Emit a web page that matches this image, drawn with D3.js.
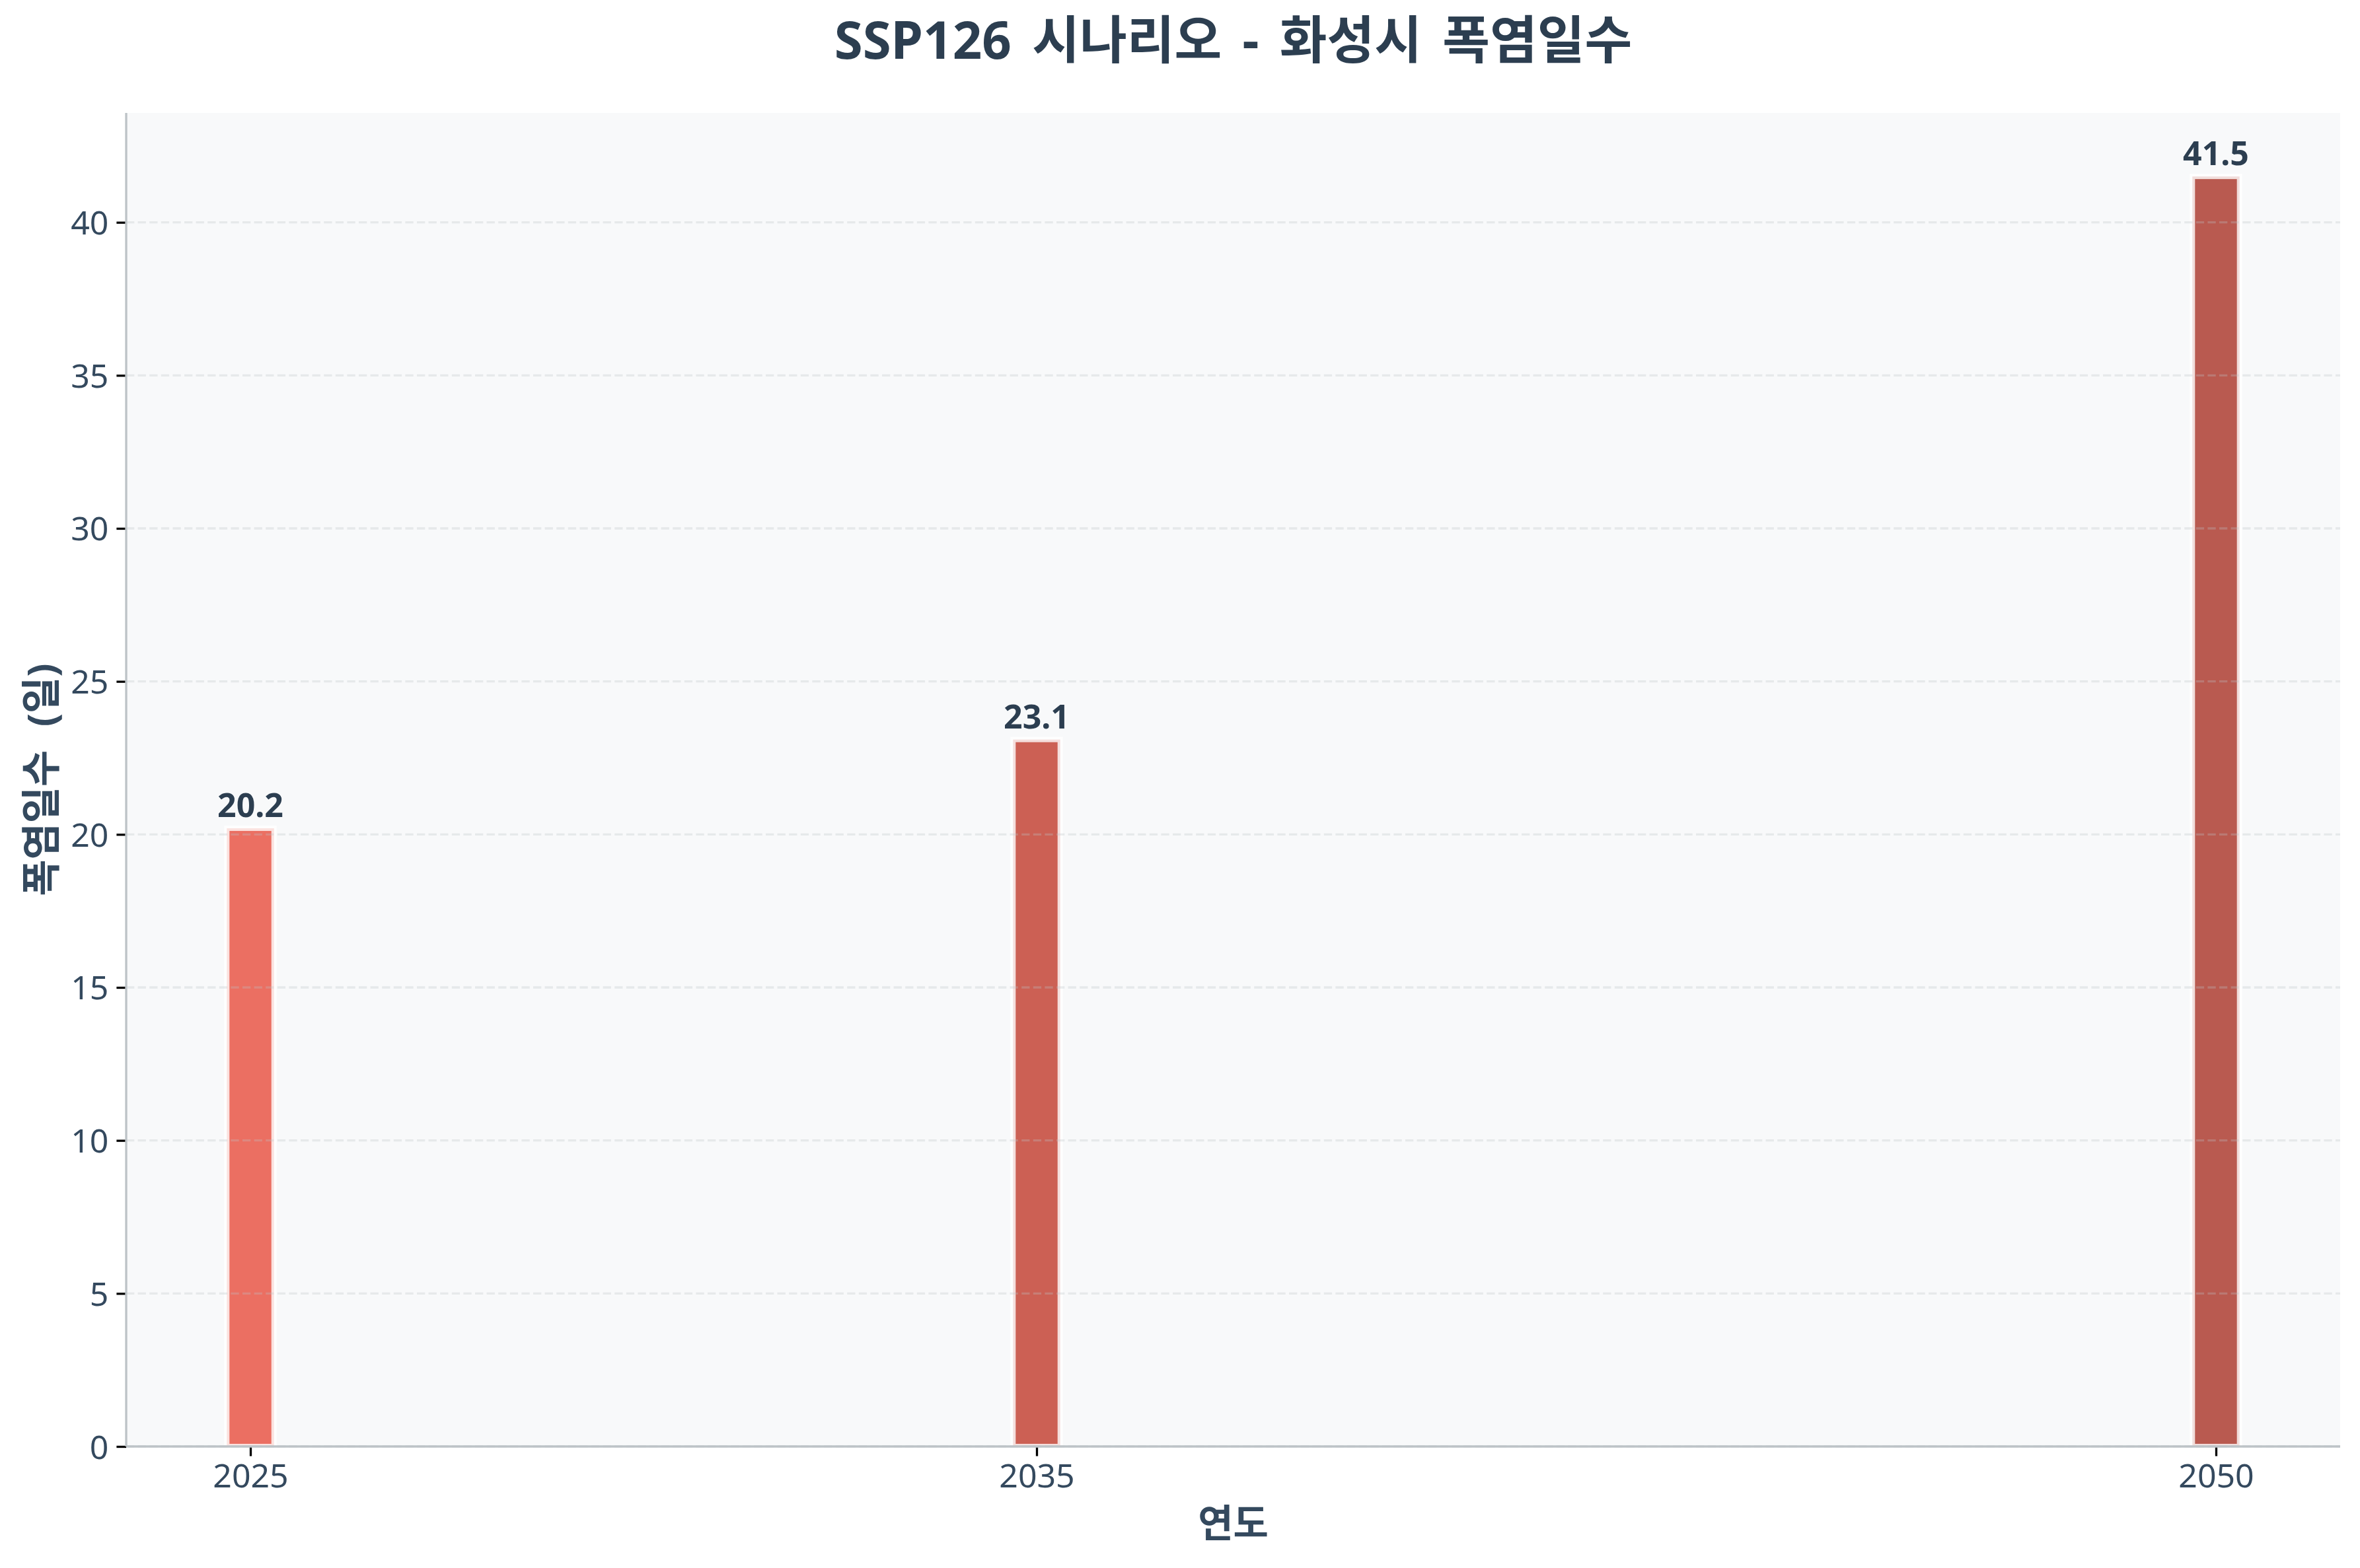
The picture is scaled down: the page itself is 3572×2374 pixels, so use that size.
<!DOCTYPE html>
<html>
<head>
<meta charset="utf-8">
<script src="https://cdn.jsdelivr.net/npm/d3@7"></script>
<style>
  body { margin: 0; background: #ffffff; }
  text { font-family: "Noto Sans", "Noto Sans CJK KR", sans-serif; }
</style>
</head>
<body>
<script>
// data
const a_years = [2025, 2035, 2050];
const a_heat_days = [20.2, 23.1, 41.5];
const a_bar_colors = ["#e74c3c", "#c0392b", "#a93226"];
const a_y_ticks = [0, 5, 10, 15, 20, 25, 30, 35, 40];

const v_title = "SSP126 시나리오 - 화성시 폭염일수";
const v_x_label = "연도";
const v_y_label = "폭염일수 (일)";

const v_width = 3572, v_height = 2374;
const d_margin = {top: 171, right: 30, bottom: 184, left: 191};
const v_graph_width = v_width - d_margin.left - d_margin.right;
const v_graph_height = v_height - d_margin.top - d_margin.bottom;

const v_bar_w = 0.6;

// matplotlib-style 5% margins around the bars
var v_x_min = d3.min(a_years) - v_bar_w / 2,
    v_x_max = d3.max(a_years) + v_bar_w / 2,
    v_x_pad = (v_x_max - v_x_min) * 0.05;

var x_bc = d3.scaleLinear()
    .domain([v_x_min - v_x_pad, v_x_max + v_x_pad])
    .range([0, v_graph_width]);
var y_bc = d3.scaleLinear()
    .domain([0, d3.max(a_heat_days) * 1.05])
    .range([v_graph_height, 0]);

var svg = d3.select("body").append("svg")
    .attr("width", v_width)
    .attr("height", v_height);

const g = svg.append("g")
    .attr("transform", `translate(${d_margin.left}, ${d_margin.top})`);

// plot background
g.append("rect")
    .attr("width", v_graph_width)
    .attr("height", v_graph_height)
    .attr("fill", "#f8f9fa");

// bars
g.selectAll(".bar")
    .data(a_heat_days)
    .enter().append("rect")
    .attr("class", "bar")
    .attr("x", (d, i) => x_bc(a_years[i] - v_bar_w / 2))
    .attr("width", (d, i) => x_bc(a_years[i] + v_bar_w / 2) - x_bc(a_years[i] - v_bar_w / 2))
    .attr("y", d => y_bc(d))
    .attr("height", d => y_bc(0) - y_bc(d))
    .attr("fill", (d, i) => a_bar_colors[i])
    .attr("fill-opacity", 0.8)
    .attr("stroke", "#ffffff")
    .attr("stroke-opacity", 0.8)
    .attr("stroke-width", 8);

// grid (drawn over bars like matplotlib)
g.append("g")
    .selectAll("line")
    .data(a_y_ticks)
    .enter().append("line")
    .attr("x1", 0)
    .attr("x2", v_graph_width)
    .attr("y1", d => y_bc(d))
    .attr("y2", d => y_bc(d))
    .attr("stroke", "#bdc3c7")
    .attr("stroke-opacity", 0.3)
    .attr("stroke-width", 3.3)
    .attr("stroke-dasharray", "12.3,5.3");

// axes
var x_axis = d3.axisBottom(x_bc)
    .tickValues(a_years)
    .tickFormat(d3.format("d"))
    .tickSize(14.6)
    .tickPadding(12);
var y_axis = d3.axisLeft(y_bc)
    .tickValues(a_y_ticks)
    .tickSize(14.6)
    .tickPadding(12);

const x_axis_group = g.append("g")
    .attr("transform", `translate(0, ${v_graph_height})`)
    .call(x_axis);
const y_axis_group = g.append("g")
    .call(y_axis);

[x_axis_group, y_axis_group].forEach(function(ax) {
    ax.select(".domain").remove();
    ax.selectAll(".tick line").attr("stroke", "#000000").attr("stroke-width", 3.3);
    ax.selectAll(".tick text")
        .attr("fill", "#34495e")
        .style("font-size", "50px")
        .style("font-family", "'Noto Sans', sans-serif");
});
y_axis_group.selectAll(".tick text").attr("dy", "0.36em");

// spines
g.append("line")
    .attr("x1", 0).attr("x2", 0)
    .attr("y1", 0).attr("y2", v_graph_height)
    .attr("stroke", "#bdc3c7").attr("stroke-width", 3.3);
g.append("line")
    .attr("x1", 0).attr("x2", v_graph_width)
    .attr("y1", v_graph_height).attr("y2", v_graph_height)
    .attr("stroke", "#bdc3c7").attr("stroke-width", 3.3);

// value labels
g.selectAll(".val")
    .data(a_heat_days)
    .enter().append("text")
    .attr("class", "val")
    .attr("x", (d, i) => x_bc(a_years[i]))
    .attr("y", d => y_bc(d) - 17)
    .attr("text-anchor", "middle")
    .attr("fill", "#2c3e50")
    .style("font-size", "50px")
    .style("font-weight", "bold")
    .text(d => d.toFixed(1));

// title + labels
svg.append("text")
    .attr("x", d_margin.left + v_graph_width / 2)
    .attr("y", 89)
    .attr("text-anchor", "middle")
    .attr("fill", "#2c3e50")
    .style("font-size", "78px")
    .style("font-weight", "bold")
    .style("word-spacing", "11px")
    .text(v_title);

svg.append("text")
    .attr("x", d_margin.left + v_graph_width / 2)
    .attr("y", 2327)
    .attr("text-anchor", "middle")
    .attr("fill", "#34495e")
    .style("font-size", "58px")
    .style("font-weight", "bold")
    .text(v_x_label);

svg.append("text")
    .attr("transform", `translate(84, ${d_margin.top + v_graph_height / 2}) rotate(-90)`)
    .attr("text-anchor", "middle")
    .attr("fill", "#34495e")
    .style("font-size", "60px")
    .style("font-weight", "bold")
    .style("word-spacing", "20px")
    .text(v_y_label);
</script>
</body>
</html>
